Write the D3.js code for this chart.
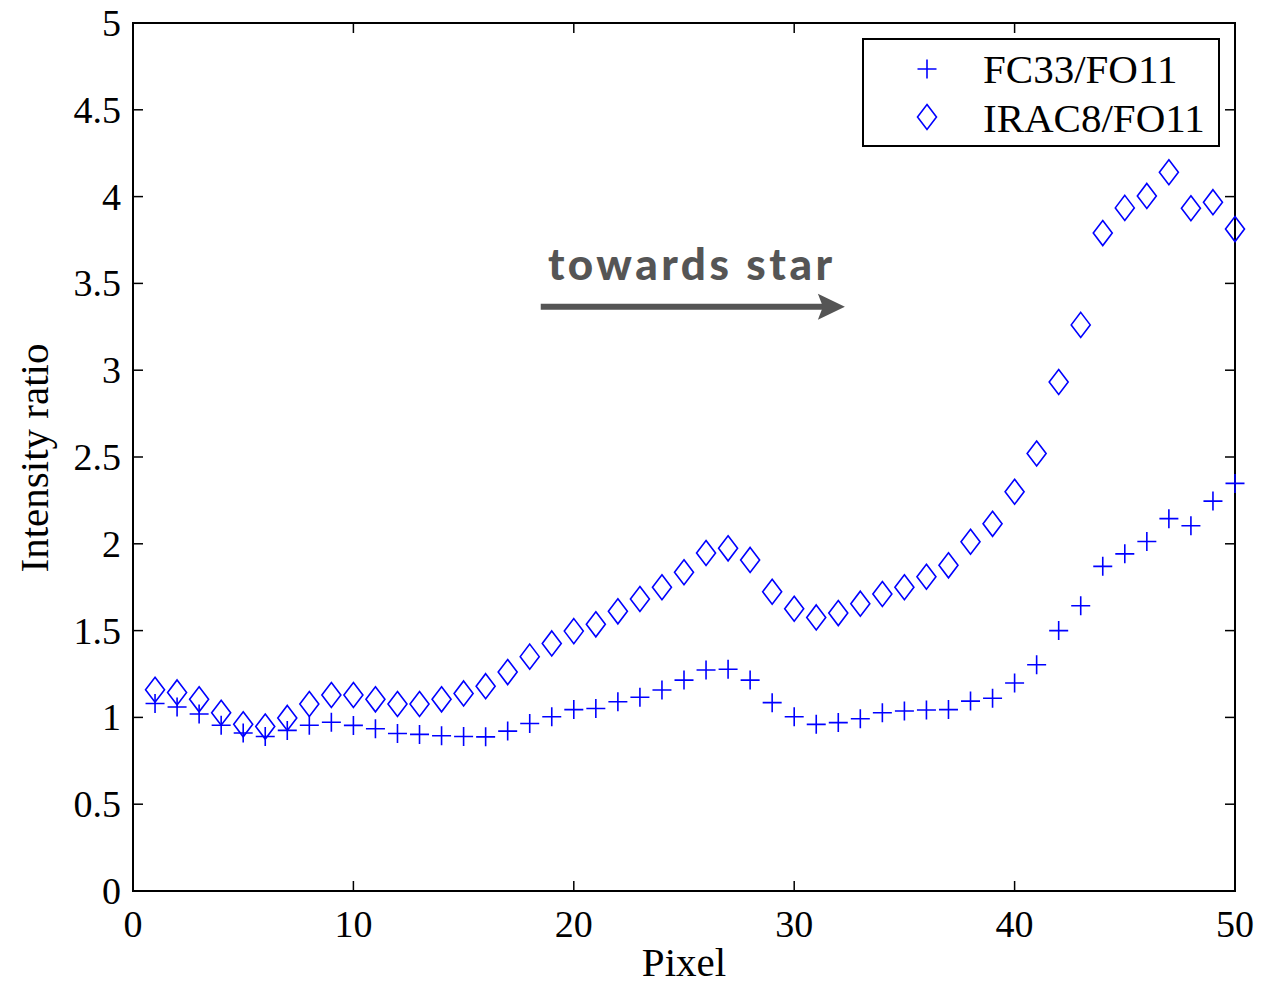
<!DOCTYPE html>
<html>
<head>
<meta charset="utf-8" />
<style>
  body { margin: 0; background: #fff; }
  svg text { font-family: "Liberation Serif", "Times New Roman", serif; }
</style>
</head>
<body>
<svg id="chart" width="1285" height="985"></svg>
<script src="https://d3js.org/d3.v7.min.js"></script>
<script>
// pixel positions 1..50
const pixels = d3.range(1, 51)
const fc33 = [
  1.08, 1.06, 1.02, 0.955, 0.91, 0.89, 0.925, 0.955, 0.972, 0.954,
  0.935, 0.907, 0.902, 0.894, 0.89, 0.888, 0.921, 0.965, 1.004, 1.045,
  1.051, 1.09, 1.116, 1.158, 1.215, 1.273, 1.277, 1.215, 1.085, 1.004,
  0.96, 0.97, 0.992, 1.027, 1.037, 1.043, 1.045, 1.094, 1.11, 1.198,
  1.303, 1.5, 1.643, 1.87, 1.942, 2.013, 2.145, 2.104, 2.246, 2.348
]
const irac8 = [
  1.159, 1.144, 1.104, 1.027, 0.96, 0.947, 0.997, 1.077, 1.129, 1.129,
  1.104, 1.077, 1.077, 1.104, 1.138, 1.18, 1.261, 1.35, 1.426, 1.497,
  1.536, 1.611, 1.682, 1.75, 1.836, 1.947, 1.974, 1.907, 1.724, 1.626,
  1.576, 1.601, 1.655, 1.711, 1.75, 1.81, 1.876, 2.012, 2.115, 2.3,
  2.52, 2.932, 3.261, 3.79, 3.935, 4.004, 4.14, 3.933, 3.968, 3.813
]
const xTicks = [0, 10, 20, 30, 40, 50]
const yTicks = [0, 0.5, 1, 1.5, 2, 2.5, 3, 3.5, 4, 4.5, 5]
const seriesNames = ['FC33/FO11', 'IRAC8/FO11']
// annotation in data units
const arrowFrom = [18.5, 3.365], arrowTo = [32.3, 3.365]
const noteText = 'towards star', noteAt = [25.35, 3.52]

const svg = d3.select('#chart')
const m = { left: 133, right: 1235, top: 23, bottom: 891 }
const blue = '#0000ff'

const x = d3.scaleLinear().domain([0, 50]).range([m.left, m.right])
const y = d3.scaleLinear().domain([0, 5]).range([m.bottom, m.top])

// ticks, inward on all four sides
const tl = 10
const gAx = svg.append('g').attr('stroke', '#000').attr('stroke-width', 1.5)
xTicks.forEach(t => {
  gAx.append('line').attr('x1', x(t)).attr('x2', x(t)).attr('y1', m.bottom).attr('y2', m.bottom - tl)
  gAx.append('line').attr('x1', x(t)).attr('x2', x(t)).attr('y1', m.top).attr('y2', m.top + tl)
})
yTicks.forEach(t => {
  gAx.append('line').attr('y1', y(t)).attr('y2', y(t)).attr('x1', m.left).attr('x2', m.left + tl)
  gAx.append('line').attr('y1', y(t)).attr('y2', y(t)).attr('x1', m.right).attr('x2', m.right - tl)
})
svg.append('rect')
  .attr('x', m.left).attr('y', m.top)
  .attr('width', m.right - m.left).attr('height', m.bottom - m.top)
  .attr('fill', 'none').attr('stroke', '#000').attr('stroke-width', 2)

svg.append('g').selectAll('text').data(xTicks).join('text')
  .attr('x', d => x(d)).attr('y', 937)
  .attr('text-anchor', 'middle').attr('font-size', 38)
  .text(d => d)
svg.append('g').selectAll('text').data(yTicks).join('text')
  .attr('x', 121).attr('y', d => y(d) + 13)
  .attr('text-anchor', 'end').attr('font-size', 38)
  .text(d => d)

svg.append('text').attr('x', 684).attr('y', 976)
  .attr('text-anchor', 'middle').attr('font-size', 41).text('Pixel')
svg.append('text')
  .attr('transform', 'translate(48,458) rotate(-90)')
  .attr('text-anchor', 'middle').attr('font-size', 41).text('Intensity ratio')

// markers
const plusPath = 'M-9.5,0H9.5M0,-9.5V9.5'
const diamondPath = 'M0,-12.5L9.5,0L0,12.5L-9.5,0Z'

svg.append('g').selectAll('path').data(pixels).join('path')
  .attr('transform', (d, i) => `translate(${x(d)},${y(fc33[i])})`)
  .attr('d', plusPath).attr('fill', 'none').attr('stroke', blue).attr('stroke-width', 1.6)

svg.append('g').selectAll('path').data(pixels).join('path')
  .attr('transform', (d, i) => `translate(${x(d)},${y(irac8[i])})`)
  .attr('d', diamondPath).attr('fill', 'none').attr('stroke', blue).attr('stroke-width', 1.6)

// annotation
const grey = '#555'
svg.append('text')
  .attr('x', x(noteAt[0])).attr('y', y(noteAt[1]))
  .attr('text-anchor', 'middle')
  .style('font-family', 'Lato, sans-serif').style('font-weight', 900)
  .style('letter-spacing', '3.5px')
  .attr('font-size', 44).attr('fill', grey)
  .text(noteText)
const ax = x(arrowTo[0]), ay = y(arrowTo[1])
svg.append('line')
  .attr('x1', x(arrowFrom[0])).attr('y1', ay)
  .attr('x2', ax - 18).attr('y2', ay)
  .attr('stroke', grey).attr('stroke-width', 6)
svg.append('path')
  .attr('d', `M${ax},${ay}L${ax - 27},${ay - 13}L${ax - 22},${ay}L${ax - 27},${ay + 13}Z`)
  .attr('fill', grey)

// legend
const lg = svg.append('g')
lg.append('rect').attr('x', 863).attr('y', 39).attr('width', 356).attr('height', 107)
  .attr('fill', '#fff').attr('stroke', '#000').attr('stroke-width', 2)
lg.append('path').attr('transform', 'translate(927,69)').attr('d', plusPath)
  .attr('fill', 'none').attr('stroke', blue).attr('stroke-width', 1.6)
lg.append('path').attr('transform', 'translate(927,117)').attr('d', diamondPath)
  .attr('fill', 'none').attr('stroke', blue).attr('stroke-width', 1.6)
lg.selectAll('text').data(seriesNames).join('text')
  .attr('x', 983).attr('y', (d, i) => 83 + i * 49)
  .attr('font-size', 41).text(d => d)
</script>
</body>
</html>
